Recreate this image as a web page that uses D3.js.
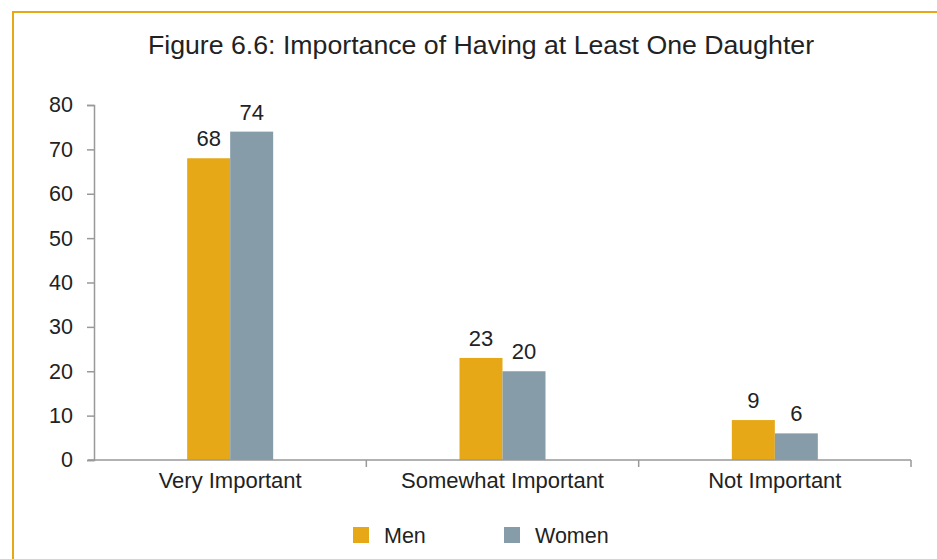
<!DOCTYPE html>
<html>
<head>
<meta charset="utf-8">
<script src="https://cdn.jsdelivr.net/npm/d3@7"></script>
<style>
  body { margin: 0; background: #fff; }
  text { font-family: "Liberation Sans", Arial, sans-serif; fill: #222; }
</style>
</head>
<body>
<div id="chart"></div>
<script>
const categorias = ["Very Important", "Somewhat Important", "Not Important"];
const series = ["Men", "Women"];
const hombres = [68, 23, 9];
const mujeres = [74, 20, 6];
const ticksY = [0, 10, 20, 30, 40, 50, 60, 70, 80];
const colores = ["#e6a817", "#869ca9"];

const svg = d3.select("#chart")
              .append("svg")
              .attr("width", 937)
              .attr("height", 559);

// borde naranjo
svg.append("path")
  .attr("d", "M13,559 L13,12 L937,12")
  .attr("fill", "none")
  .attr("stroke", "#e6a817")
  .attr("stroke-width", 2);

svg.append("text")
  .attr("x", 481)
  .attr("y", 54)
  .attr("text-anchor", "middle")
  .attr("font-size", 26.7)
  .text("Figure 6.6: Importance of Having at Least One Daughter");

const datos = categorias.map((c, i) => ({categoria: c, valores: [hombres[i], mujeres[i]]}));

const x = d3.scaleBand().domain(categorias).range([94, 911]);
const y = d3.scaleLinear().domain([0, 80]).range([460, 105]);
const barW = 43;

// eje y
const ejeY = svg.append("g")
  .attr("transform", "translate(94,0)")
  .call(d3.axisLeft(y).tickValues(ticksY).tickSize(7).tickPadding(14));
ejeY.select(".domain").attr("stroke", "#999").attr("stroke-width", 1.5);
ejeY.selectAll(".tick line").attr("stroke", "#999").attr("stroke-width", 1.5);
ejeY.selectAll("text").attr("font-size", 21.5).attr("fill", "#222")
  .attr("font-family", "Liberation Sans, Arial, sans-serif");

// barras
const grupos = svg.append("g").selectAll("g")
  .data(datos)
  .join("g");

grupos.selectAll("rect")
  .data(d => d.valores.map((v, j) => ({cat: d.categoria, v: v, j: j})))
  .join("rect")
  .attr("x", d => x(d.cat) + x.bandwidth() / 2 - barW + d.j * barW)
  .attr("width", barW)
  .attr("y", d => y(d.v))
  .attr("height", d => y(0) - y(d.v))
  .attr("fill", d => colores[d.j]);

grupos.selectAll("text")
  .data(d => d.valores.map((v, j) => ({cat: d.categoria, v: v, j: j})))
  .join("text")
  .attr("x", d => x(d.cat) + x.bandwidth() / 2 - barW / 2 + d.j * barW)
  .attr("y", d => y(d.v) - 12)
  .attr("text-anchor", "middle")
  .attr("font-size", 22)
  .text(d => d.v);

// eje x
const ejeX = svg.append("g")
  .attr("transform", "translate(0,460)");
ejeX.append("line")
  .attr("x1", 88).attr("x2", 911)
  .attr("stroke", "#999").attr("stroke-width", 1.5);
ejeX.selectAll("line.tick")
  .data(categorias)
  .join("line")
  .attr("class", "tick")
  .attr("x1", d => x(d) + x.bandwidth()).attr("x2", d => x(d) + x.bandwidth())
  .attr("y1", 0).attr("y2", 7)
  .attr("stroke", "#999").attr("stroke-width", 1.5);
ejeX.selectAll("text")
  .data(categorias)
  .join("text")
  .attr("x", d => x(d) + x.bandwidth() / 2)
  .attr("y", 28)
  .attr("text-anchor", "middle")
  .attr("font-size", 22)
  .text(d => d);

// leyenda
const leyendaX = [353, 504];
const leyenda = svg.append("g").selectAll("g")
  .data(series)
  .join("g")
  .attr("transform", (d, i) => `translate(${leyendaX[i]},527)`);
leyenda.append("rect")
  .attr("width", 16).attr("height", 16)
  .attr("fill", (d, i) => colores[i]);
leyenda.append("text")
  .attr("x", 31).attr("y", 16)
  .attr("font-size", 21.5)
  .text(d => d);
</script>
</body>
</html>
